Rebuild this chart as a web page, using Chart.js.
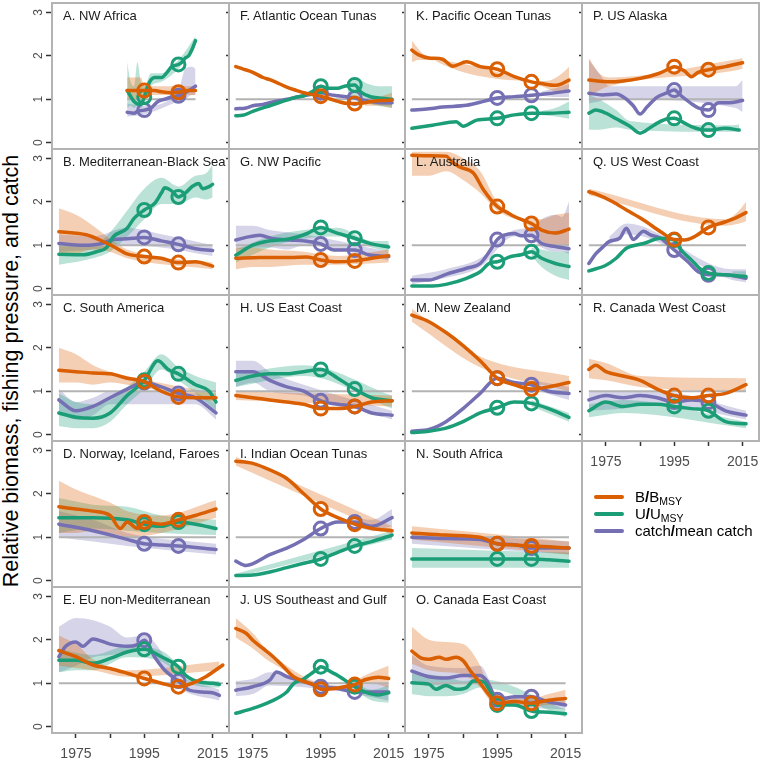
<!DOCTYPE html>
<html><head><meta charset="utf-8">
<script src="https://cdn.jsdelivr.net/npm/chart.js@4.4.1/dist/chart.umd.min.js"></script>
<style>
body{margin:0;width:762px;height:761px;background:#fff;position:relative;overflow:hidden;font-family:"Liberation Sans",Arial,Helvetica,sans-serif}
canvas{position:absolute}
.tbox{position:absolute;overflow:hidden;height:28px;z-index:5}
.tbox span{position:absolute;left:10px;top:4px;font-size:13px;line-height:16px;color:#1a1a1a;white-space:nowrap}
#ytitle{position:absolute;left:-239px;top:358px;width:500px;height:26px;line-height:26px;text-align:center;font-size:21.5px;color:#000;transform:rotate(-90deg);transform-origin:50% 50%;white-space:nowrap}
.leg{position:absolute;left:594px;height:18px;font-size:15px;line-height:18px;color:#000;white-space:nowrap}
.leg .sw{position:absolute;left:0;top:7px;width:30px;height:4px;border-radius:2px}
.leg .tx{position:absolute;left:41px;top:0}
.leg sub{font-size:10.5px;vertical-align:-3px;line-height:0}
.leg b{font-weight:bold}
</style></head><body>
<div id="ytitle">Relative biomass, fishing pressure, and catch</div>
<script>
// ---------------- DATA ----------------
const panelTitles = ['A. NW Africa','B. Mediterranean-Black Sea','C. South America','D. Norway, Iceland, Faroes','E. EU non-Mediterranean',
 'F. Atlantic Ocean Tunas','G. NW Pacific','H. US East Coast','I. Indian Ocean Tunas','J. US Southeast and Gulf',
 'K. Pacific Ocean Tunas','L. Australia','M. New Zealand','N. South Africa','O. Canada East Coast',
 'P. US Alaska','Q. US West Coast','R. Canada West Coast'];
const seriesNames = ['B/BMSY','U/UMSY','catch/mean catch'];
const xTickYears = [1975,1985,1995,2005,2015];
const xTickLabels = ['1975','','1995','','2015'];
const yTickValues = [0,1,2,3];
const circleYears = [1995,2005];

// series: [year, value]; bands: [year, low, high]
// A. NW Africa
const A_b = [[1990,1.2],[1993,1.2],[1995,1.2],[1998,1.2],[2000,1.17],[2003,1.15],[2005,1.16],[2008,1.2],[2010,1.2]];
const A_u = [[1990,1.2],[1992,0.95],[1994,0.88],[1995,1.05],[1996,1.3],[1997,1.45],[1998,1.5],[2000,1.5],[2002,1.65],[2003,1.75],[2005,1.8],[2006,1.85],[2007,1.95],[2008,2.0],[2009,2.15],[2010,2.35]];
const A_c = [[1990,0.7],[1992,0.68],[1993,0.72],[1995,0.75],[1997,0.8],[1999,0.95],[2001,1.0],[2003,1.05],[2005,1.08],[2007,1.15],[2009,1.25],[2010,1.3]];
const A_bBand = [[1990,1.0,1.5],[1994,1.0,1.5],[1995,1.1,1.3],[2010,1.1,1.3]];
const A_uBand = [[1990,0.8,1.85],[1991,0.85,1.4],[1992,0.8,1.3],[1993,0.85,1.85],[1994,0.8,1.4],[1995,0.9,1.3],[1997,1.3,1.6],[2000,1.4,1.6],[2005,1.7,1.9],[2010,2.25,2.45]];
const A_cBand = [[1990,0.6,0.9],[1995,0.65,0.85],[2005,0.95,1.2],[2007,1.0,1.7],[2009,1.1,1.75],[2010,1.1,1.7]];
// B. Mediterranean-Black Sea
const B_b = [[1970,1.31],[1978,1.24],[1982,1.12],[1986,0.97],[1990,0.8],[1995,0.74],[2000,0.7],[2005,0.6],[2010,0.62],[2015,0.52]];
const B_u = [[1970,0.79],[1977,0.78],[1981,0.85],[1984,0.95],[1986,1.2],[1990,1.39],[1992,1.62],[1995,1.81],[1998,1.96],[2000,2.2],[2001,2.32],[2003,2.25],[2005,2.11],[2007,2.2],[2009,2.35],[2011,2.42],[2012,2.3],[2014,2.35],[2015,2.4]];
const B_c = [[1970,1.04],[1977,1.0],[1982,1.03],[1986,1.13],[1990,1.15],[1995,1.18],[2000,1.1],[2005,1.02],[2010,0.92],[2015,0.88]];
const B_bBand = [[1970,0.75,1.85],[1975,0.8,1.7],[1980,0.9,1.45],[1985,0.85,1.15],[1990,0.7,0.9],[2015,0.45,0.6]];
const B_uBand = [[1970,0.55,1.0],[1980,0.7,1.0],[1985,0.85,1.3],[1990,1.2,1.8],[1995,1.6,2.3],[2000,1.95,2.55],[2005,1.95,2.35],[2010,2.1,2.6],[2013,2.05,2.65],[2015,2.1,2.85]];
const B_cBand = [[1970,0.85,1.25],[1980,0.9,1.2],[1990,1.0,1.4],[2000,0.95,1.25],[2015,0.75,1.0]];
// C. South America
const C_b = [[1970,1.48],[1975,1.45],[1980,1.42],[1985,1.4],[1990,1.3],[1995,1.22],[2000,1.0],[2005,0.87],[2010,0.85],[2016,0.85]];
const C_u = [[1970,0.5],[1975,0.4],[1980,0.38],[1985,0.5],[1990,0.9],[1995,1.25],[1999,1.7],[2002,1.5],[2005,1.4],[2010,1.15],[2014,1.0],[2016,0.75]];
const C_c = [[1970,0.8],[1975,0.55],[1980,0.65],[1985,0.85],[1990,1.05],[1995,1.2],[2000,1.1],[2005,0.95],[2010,0.85],[2016,0.5]];
const C_bBand = [[1970,1.2,2.0],[1975,1.2,1.85],[1980,1.15,1.6],[1985,1.2,1.45],[1990,1.15,1.35],[2016,0.75,0.95]];
const C_uBand = [[1970,0.2,0.95],[1975,0.15,0.75],[1980,0.15,0.7],[1985,0.3,0.8],[1990,0.7,1.1],[1995,1.05,1.45],[2000,1.5,1.85],[2005,1.25,1.55],[2010,0.95,1.35],[2016,0.55,1.2]];
const C_cBand = [[1970,0.5,1.05],[1975,0.35,0.75],[1980,0.45,0.85],[1985,0.7,1.0],[2010,0.7,0.95],[2016,0.35,0.7]];
// D. Norway, Iceland, Faroes
const D_b = [[1970,1.7],[1975,1.65],[1980,1.6],[1985,1.5],[1988,1.2],[1990,1.35],[1993,1.2],[1995,1.35],[2000,1.3],[2005,1.4],[2010,1.5],[2016,1.65]];
const D_u = [[1970,1.45],[1980,1.45],[1990,1.4],[1995,1.3],[2000,1.25],[2005,1.35],[2010,1.3],[2016,1.2]];
const D_c = [[1970,1.3],[1980,1.15],[1990,0.95],[1995,0.85],[2000,0.82],[2005,0.8],[2016,0.72]];
const D_bBand = [[1970,1.1,2.3],[1975,1.1,2.1],[1980,1.15,1.95],[1985,1.1,1.8],[1990,1.0,1.6],[2000,1.1,1.5],[2016,1.45,1.85]];
const D_uBand = [[1970,1.1,1.9],[1980,1.2,1.75],[1990,1.15,1.7],[2000,1.1,1.5],[2016,1.05,1.4]];
const D_cBand = [[1970,1.0,1.6],[1980,0.9,1.4],[1990,0.8,1.1],[2016,0.6,0.85]];
// E. EU non-Mediterranean
const E_b = [[1970,1.75],[1975,1.61],[1980,1.42],[1985,1.34],[1990,1.23],[1995,1.11],[2000,1.0],[2005,0.92],[2009,1.0],[2013,1.15],[2018,1.42]];
const E_u = [[1970,1.53],[1975,1.53],[1980,1.46],[1985,1.57],[1990,1.72],[1995,1.78],[2000,1.61],[2005,1.38],[2007,1.19],[2011,1.03],[2015,1.0],[2017,0.97]];
const E_c = [[1970,1.61],[1972,1.85],[1975,1.95],[1977,1.85],[1980,2.02],[1985,1.9],[1990,1.85],[1993,1.89],[1995,1.99],[1998,1.61],[2001,1.3],[2005,1.05],[2008,0.85],[2012,0.8],[2015,0.78],[2017,0.72]];
const E_bBand = [[1970,1.4,2.1],[1975,1.35,1.9],[1980,1.3,1.55],[1990,1.15,1.3],[2017,1.3,1.5]];
const E_uBand = [[1970,1.25,1.8],[1975,1.3,1.7],[1980,1.3,1.65],[1990,1.6,1.85],[2000,1.5,1.75],[2010,0.95,1.1],[2017,0.9,1.05]];
const E_cBand = [[1970,1.25,2.3],[1975,1.4,2.5],[1980,1.6,2.45],[1985,1.65,2.3],[1990,1.7,2.05],[1995,1.85,2.1],[2005,0.9,1.2],[2017,0.6,0.85]];
// F. Atlantic Ocean Tunas
const F_b = [[1970,1.75],[1972,1.7],[1975,1.62],[1978,1.5],[1980,1.45],[1983,1.35],[1985,1.28],[1988,1.2],[1990,1.15],[1993,1.1],[1995,1.07],[1998,1.0],[2000,0.95],[2003,0.9],[2005,0.9],[2008,0.92],[2010,0.95],[2013,0.97],[2016,0.98]];
const F_u = [[1970,0.62],[1972,0.63],[1975,0.72],[1978,0.8],[1980,0.85],[1983,0.93],[1985,0.98],[1988,1.05],[1990,1.08],[1993,1.2],[1995,1.3],[1997,1.25],[2000,1.25],[2002,1.3],[2005,1.33],[2007,1.15],[2010,1.05],[2013,1.02],[2016,1.0]];
const F_c = [[1970,0.78],[1973,0.8],[1975,0.85],[1978,0.88],[1980,0.92],[1983,0.97],[1985,1.0],[1988,1.05],[1990,1.08],[1993,1.12],[1995,1.15],[1998,1.1],[2000,1.08],[2003,1.05],[2005,1.03],[2008,0.97],[2010,0.95],[2013,0.92],[2016,0.92]];
const F_bBand = [[2008,0.85,1.0],[2012,0.85,1.05],[2016,0.8,1.15]];
const F_uBand = [[2003,1.15,1.4],[2006,0.95,1.45],[2009,0.9,1.35],[2012,0.85,1.3],[2016,0.8,1.3]];
const F_cBand = [[2010,0.88,1.02],[2016,0.85,1.0]];
// G. NW Pacific
const G_b = [[1970,0.7],[1977,0.72],[1986,0.72],[1991,0.73],[1995,0.66],[1999,0.62],[2005,0.64],[2010,0.7],[2015,0.76]];
const G_u = [[1970,0.77],[1975,1.0],[1980,1.1],[1986,1.15],[1991,1.27],[1995,1.41],[1999,1.3],[2005,1.16],[2010,1.03],[2015,0.96]];
const G_c = [[1970,1.12],[1973,1.18],[1977,1.23],[1981,1.15],[1986,1.12],[1990,1.1],[1995,1.03],[1999,0.89],[2005,0.89],[2009,0.78],[2015,0.74]];
const G_bBand = [[1970,0.45,0.95],[1975,0.5,0.95],[1980,0.5,0.9],[1990,0.55,0.85],[2000,0.55,0.75],[2015,0.6,0.9]];
const G_uBand = [[1970,0.6,0.9],[1980,0.95,1.2],[1990,1.15,1.35],[2000,1.2,1.4],[2010,0.95,1.1],[2015,0.85,1.1]];
const G_cBand = [[1970,0.9,1.45],[1975,0.95,1.45],[1980,0.95,1.35],[1985,0.9,1.3],[1990,1.0,1.25],[2015,0.65,0.85]];
// H. US East Coast
const H_b = [[1970,0.9],[1975,0.85],[1980,0.8],[1985,0.75],[1990,0.7],[1995,0.6],[2000,0.6],[2005,0.65],[2010,0.75],[2016,0.78]];
const H_u = [[1970,1.25],[1975,1.35],[1980,1.4],[1985,1.4],[1990,1.45],[1995,1.5],[2000,1.3],[2005,1.05],[2010,0.85],[2016,0.78]];
const H_c = [[1970,1.45],[1975,1.45],[1980,1.25],[1985,1.1],[1990,1.0],[1995,0.78],[2000,0.7],[2005,0.65],[2010,0.5],[2016,0.45]];
const H_bBand = [[1970,0.8,1.0],[2016,0.65,0.9]];
const H_uBand = [[1970,1.1,1.4],[1990,1.35,1.6],[2016,0.6,0.9]];
const H_cBand = [[1970,1.1,1.7],[1975,1.2,1.7],[1980,1.0,1.45],[1990,0.9,1.15],[2016,0.35,0.55]];
// I. Indian Ocean Tunas
const I_b = [[1970,2.75],[1975,2.7],[1980,2.55],[1985,2.35],[1990,2.0],[1995,1.65],[2000,1.45],[2005,1.3],[2010,1.2],[2016,1.15]];
const I_u = [[1970,0.12],[1975,0.13],[1980,0.2],[1985,0.3],[1990,0.4],[1995,0.5],[2000,0.65],[2005,0.8],[2010,0.9],[2016,1.05]];
const I_c = [[1970,0.45],[1973,0.35],[1980,0.6],[1985,0.75],[1990,0.95],[1995,1.2],[2000,1.35],[2005,1.35],[2010,1.25],[2016,1.45]];
const I_bBand = [[1970,2.65,2.85],[2016,1.05,1.25]];
const I_uBand = [[1970,0.08,0.16],[2016,0.95,1.15]];
const I_cBand = [[2005,1.25,1.45],[2010,1.15,1.4],[2016,1.25,1.65]];
// J. US Southeast and Gulf
const J_b = [[1970,2.26],[1973,2.15],[1975,1.99],[1978,1.8],[1981,1.61],[1984,1.38],[1987,1.15],[1990,1.04],[1993,0.96],[1995,0.86],[1999,0.88],[2002,0.92],[2005,0.97],[2008,1.08],[2012,1.14],[2015,1.11]];
const J_u = [[1970,0.31],[1975,0.42],[1980,0.57],[1985,0.8],[1987,0.99],[1990,1.1],[1992,1.21],[1994,1.32],[1995,1.38],[1998,1.26],[2000,1.18],[2005,0.92],[2008,0.8],[2012,0.73],[2015,0.78]];
const J_c = [[1970,0.84],[1975,0.92],[1980,1.07],[1982,1.26],[1985,1.15],[1990,1.04],[1995,0.92],[2000,0.88],[2005,0.8],[2010,0.8],[2015,0.8]];
const J_bBand = [[1970,2.05,2.5],[1975,1.8,2.15],[1980,1.5,1.7],[2000,0.83,0.93],[2010,1.0,1.25],[2015,0.9,1.4]];
const J_uBand = [[2005,0.85,1.0],[2010,0.6,0.85],[2015,0.55,0.95]];
const J_cBand = [[1970,0.7,1.05],[1975,0.75,1.1],[1980,0.95,1.25],[2000,0.82,0.95],[2015,0.6,1.0]];
// K. Pacific Ocean Tunas
const K_b = [[1970,2.13],[1972,2.02],[1975,1.95],[1979,1.92],[1982,1.76],[1986,1.86],[1990,1.75],[1995,1.69],[2000,1.52],[2005,1.4],[2008,1.36],[2012,1.32],[2014,1.36],[2016,1.44]];
const K_u = [[1970,0.33],[1976,0.4],[1983,0.48],[1985,0.38],[1989,0.52],[1995,0.56],[2000,0.64],[2005,0.68],[2010,0.68],[2016,0.7]];
const K_c = [[1970,0.75],[1975,0.78],[1979,0.82],[1986,0.86],[1991,0.95],[1995,1.03],[2000,1.06],[2005,1.09],[2010,1.13],[2016,1.19]];
const K_bBand = [[1970,1.85,2.35],[1972,1.9,2.15],[1974,1.9,2.0],[2008,1.3,1.42],[2011,1.2,1.45],[2014,1.15,1.6],[2016,1.25,1.75]];
const K_uBand = [[2008,0.63,0.73],[2012,0.6,0.8],[2016,0.55,0.95]];
const K_cBand = [[2008,1.08,1.18],[2012,1.05,1.25],[2016,1.05,1.35]];
// L. Australia
const L_b = [[1970,3.07],[1975,3.06],[1980,3.05],[1982,2.9],[1984,2.8],[1988,2.66],[1991,2.27],[1995,1.89],[1998,1.75],[2000,1.66],[2005,1.5],[2008,1.35],[2012,1.28],[2016,1.37]];
const L_u = [[1970,0.06],[1976,0.06],[1980,0.1],[1986,0.24],[1990,0.39],[1993,0.6],[1995,0.62],[1999,0.74],[2002,0.78],[2005,0.85],[2008,0.7],[2012,0.58],[2016,0.51]];
const L_c = [[1970,0.2],[1975,0.2],[1980,0.33],[1986,0.47],[1990,0.58],[1993,0.89],[1995,1.13],[1997,1.23],[2000,1.27],[2002,1.22],[2005,1.23],[2008,1.04],[2012,0.97],[2016,0.92]];
const L_bBand = [[1970,2.6,3.15],[1975,2.6,3.15],[1980,2.7,3.15],[1985,2.5,3.0],[1990,2.2,2.7],[1995,1.8,2.0],[2005,1.4,1.6],[2008,1.1,1.6],[2012,1.0,1.7],[2016,1.0,1.75]];
const L_uBand = [[2005,0.75,0.95],[2008,0.5,0.9],[2012,0.3,0.85],[2016,0.2,0.85]];
const L_cBand = [[1970,0.1,0.3],[1980,0.25,0.45],[1990,0.5,0.7],[2000,1.2,1.35],[2005,1.15,1.4],[2008,0.95,1.6],[2012,0.85,1.7],[2014,0.85,1.65],[2016,0.8,2.0]];
// M. New Zealand
const M_b = [[1970,2.75],[1975,2.6],[1980,2.35],[1985,2.05],[1990,1.7],[1995,1.3],[2000,1.15],[2005,1.05],[2010,1.1],[2016,1.2]];
const M_u = [[1970,0.05],[1975,0.08],[1980,0.15],[1985,0.3],[1990,0.5],[1995,0.62],[2000,0.75],[2005,0.72],[2010,0.6],[2016,0.4]];
const M_c = [[1970,0.08],[1975,0.12],[1980,0.3],[1985,0.6],[1990,0.95],[1995,1.3],[2000,1.2],[2005,1.15],[2010,1.0],[2016,0.95]];
const M_bBand = [[1970,2.6,2.9],[1990,1.55,1.8],[2016,1.0,1.35]];
const M_uBand = [[2005,0.65,0.8],[2016,0.3,0.5]];
const M_cBand = [[2005,1.05,1.25],[2016,0.8,1.1]];
// N. South Africa
const N_b = [[1970,1.1],[1980,1.05],[1990,1.0],[1995,0.85],[2000,0.82],[2005,0.8],[2010,0.78],[2016,0.75]];
const N_u = [[1970,0.5],[1980,0.5],[1990,0.5],[1995,0.5],[2005,0.5],[2010,0.48],[2016,0.45]];
const N_c = [[1970,1.0],[1980,0.97],[1990,0.95],[1995,0.85],[2000,0.83],[2005,0.75],[2010,0.75],[2016,0.75]];
const N_bBand = [[1970,0.95,1.25],[2016,0.6,0.9]];
const N_uBand = [[1970,0.3,0.75],[1990,0.3,0.7],[2016,0.3,0.65]];
const N_cBand = [[1970,0.85,1.1],[2016,0.6,0.9]];
// O. Canada East Coast
const O_b = [[1970,1.74],[1973,1.57],[1975,1.55],[1978,1.6],[1980,1.55],[1983,1.6],[1985,1.52],[1987,1.3],[1990,1.0],[1993,0.69],[1995,0.54],[2000,0.58],[2005,0.54],[2010,0.61],[2015,0.65]];
const O_u = [[1970,1.01],[1975,0.98],[1977,0.86],[1980,0.95],[1983,0.86],[1986,0.9],[1988,1.05],[1991,1.03],[1993,0.8],[1995,0.5],[2000,0.5],[2005,0.36],[2010,0.33],[2015,0.3]];
const O_c = [[1970,1.28],[1975,1.15],[1980,1.12],[1985,1.18],[1990,1.18],[1992,1.05],[1995,0.62],[2000,0.69],[2005,0.69],[2010,0.57],[2015,0.5]];
const O_bBand = [[1970,1.45,2.3],[1975,1.3,2.0],[1980,1.25,1.95],[1985,1.2,1.9],[1990,0.9,1.4],[1993,0.6,0.8],[2005,0.45,0.65],[2010,0.5,0.75],[2015,0.5,0.85]];
const O_uBand = [[1970,0.75,1.25],[1975,0.7,1.2],[1980,0.7,1.15],[1985,0.75,1.05],[1990,0.9,1.1],[2015,0.22,0.4]];
const O_cBand = [[1970,1.0,1.65],[1975,0.95,1.4],[1985,1.0,1.35],[1990,1.05,1.4],[1995,0.55,0.75],[2015,0.4,0.6]];
// P. US Alaska
const P_b = [[1970,1.44],[1976,1.4],[1980,1.42],[1985,1.48],[1990,1.58],[1993,1.68],[1995,1.75],[1998,1.65],[2000,1.52],[2002,1.62],[2005,1.68],[2010,1.75],[2015,1.84]];
const P_u = [[1970,0.68],[1972,0.75],[1975,0.68],[1978,0.55],[1982,0.38],[1985,0.22],[1988,0.35],[1990,0.45],[1993,0.55],[1995,0.56],[1998,0.45],[2000,0.37],[2003,0.3],[2005,0.29],[2010,0.33],[2014,0.29]];
const P_c = [[1970,1.14],[1974,1.1],[1978,1.12],[1981,1.0],[1983,0.85],[1985,0.66],[1987,0.82],[1990,1.05],[1993,1.15],[1995,1.21],[1997,1.08],[2000,0.9],[2002,0.8],[2005,0.75],[2008,0.92],[2011,0.92],[2015,0.97]];
const P_bBand = [[1970,1.05,1.95],[1973,1.2,1.6],[1976,1.3,1.5],[2012,1.65,1.9],[2015,1.7,1.95]];
const P_uBand = [[1970,0.3,1.1],[1973,0.3,1.0],[1978,0.35,0.75],[1982,0.3,0.5],[2012,0.25,0.4],[2014,0.25,0.42]];
const P_cBand = [[1970,0.9,1.9],[1973,0.95,1.6],[1976,1.0,1.3],[2013,0.8,1.3],[2015,0.7,1.45]];
// Q. US West Coast
const Q_b = [[1970,2.23],[1972,2.18],[1977,2.0],[1981,1.81],[1986,1.58],[1991,1.31],[1995,1.13],[1998,1.12],[2001,1.2],[2005,1.41],[2010,1.54],[2013,1.63],[2016,1.75]];
const Q_u = [[1970,0.41],[1975,0.54],[1978,0.7],[1981,0.93],[1986,1.04],[1991,1.16],[1995,1.12],[1997,0.89],[2000,0.66],[2003,0.43],[2005,0.36],[2010,0.32],[2016,0.28]];
const Q_c = [[1970,0.58],[1972,0.8],[1974,0.95],[1976,1.09],[1979,1.16],[1981,1.39],[1983,1.13],[1986,1.32],[1988,1.24],[1991,1.16],[1995,0.89],[1999,0.62],[2002,0.39],[2005,0.32],[2010,0.32],[2016,0.24]];
const Q_bBand = [[1970,2.15,2.3],[2010,1.45,1.6],[2014,1.5,1.8],[2016,1.55,2.0]];
const Q_uBand = [[2012,0.25,0.4],[2016,0.2,0.4]];
const Q_cBand = [[1976,1.0,1.2],[1981,1.25,1.5],[2012,0.2,0.45],[2016,0.15,0.45]];
// R. Canada West Coast
const R_b = [[1970,1.5],[1972,1.6],[1975,1.45],[1980,1.35],[1985,1.25],[1990,1.05],[1995,0.9],[2000,0.85],[2005,0.9],[2010,0.95],[2016,1.15]];
const R_u = [[1970,0.55],[1975,0.75],[1980,0.65],[1985,0.7],[1990,0.7],[1995,0.65],[2000,0.6],[2005,0.55],[2010,0.3],[2016,0.25]];
const R_c = [[1970,0.8],[1975,0.9],[1980,0.85],[1985,0.9],[1990,0.85],[1995,0.75],[2000,0.8],[2005,0.75],[2010,0.55],[2016,0.45]];
const R_bBand = [[1970,1.3,1.75],[1975,1.25,1.65],[1985,1.1,1.35],[2016,1.0,1.3]];
const R_uBand = [[1970,0.4,0.7],[1980,0.5,0.8],[2016,0.15,0.3]];
const R_cBand = [[1970,0.55,1.0],[1980,0.6,1.0],[1990,0.7,1.0],[2016,0.35,0.55]];

// panel table built from the arrays (index -> column = floor(i/5), row = i%5)
const panelSeries = [
 [A_b,A_u,A_c,A_bBand,A_uBand,A_cBand],[B_b,B_u,B_c,B_bBand,B_uBand,B_cBand],[C_b,C_u,C_c,C_bBand,C_uBand,C_cBand],
 [D_b,D_u,D_c,D_bBand,D_uBand,D_cBand],[E_b,E_u,E_c,E_bBand,E_uBand,E_cBand],[F_b,F_u,F_c,F_bBand,F_uBand,F_cBand],
 [G_b,G_u,G_c,G_bBand,G_uBand,G_cBand],[H_b,H_u,H_c,H_bBand,H_uBand,H_cBand],[I_b,I_u,I_c,I_bBand,I_uBand,I_cBand],
 [J_b,J_u,J_c,J_bBand,J_uBand,J_cBand],[K_b,K_u,K_c,K_bBand,K_uBand,K_cBand],[L_b,L_u,L_c,L_bBand,L_uBand,L_cBand],
 [M_b,M_u,M_c,M_bBand,M_uBand,M_cBand],[N_b,N_u,N_c,N_bBand,N_uBand,N_cBand],[O_b,O_u,O_c,O_bBand,O_uBand,O_cBand],
 [P_b,P_u,P_c,P_bBand,P_uBand,P_cBand],[Q_b,Q_u,Q_c,Q_bBand,Q_uBand,Q_cBand],[R_b,R_u,R_c,R_bBand,R_uBand,R_cBand]
];

// ---------------- STYLE / LAYOUT ----------------
const FONT = '"Liberation Sans", Arial, Helvetica, sans-serif';
const LINE_COL = ['#D95F02','#1B9E77','#7570B3'];
const BAND_COL = ['rgba(217,95,2,0.3)','rgba(27,158,119,0.3)','rgba(117,112,179,0.3)'];
const colLeft = [52,229,405,582];
const colWidth = [177,176,177,177];
const rowTop0 = 3, rowH = 146;

const framePlugin = {id:'frame', afterDraw(chart){
  const {ctx, chartArea:a} = chart;
  ctx.save(); ctx.strokeStyle = '#b3b3b3'; ctx.lineWidth = 2;
  ctx.strokeRect(a.left, a.top, a.right - a.left, a.bottom - a.top);
  ctx.restore();
}};

const toXY = arr => arr.map(p => ({x:p[0], y:p[1]}));

panelSeries.forEach((ps, i) => {
  const col = Math.floor(i/5), row = i%5;
  const bottom = (row === 4) || i === 17;
  const ML = col === 0 ? 52 : 8;
  const MB = bottom ? 30 : 3;
  const W = colWidth[col];
  const top = rowTop0 + row*rowH;
  const cv = document.createElement('canvas');
  cv.width = ML + W + 3; cv.height = 3 + rowH + MB;
  cv.style.left = (colLeft[col] - ML) + 'px';
  cv.style.top = (top - 3) + 'px';
  cv.style.width = cv.width + 'px'; cv.style.height = cv.height + 'px';
  document.body.appendChild(cv);

  const datasets = [];
  [0,1,2].forEach(k => {
    const band = ps[3+k];
    if (!band || !band.length) return;
    datasets.push({data: band.map(p => ({x:p[0], y:p[2]})), borderWidth:0, pointRadius:0, fill:false, order:20, cubicInterpolationMode:'monotone'});
    datasets.push({data: band.map(p => ({x:p[0], y:p[1]})), borderWidth:0, pointRadius:0, fill:'-1', backgroundColor:BAND_COL[k], order:20, cubicInterpolationMode:'monotone'});
  });
  let x0 = Infinity, x1 = -Infinity;
  [0,1,2].forEach(k => { ps[k].forEach(p => { x0 = Math.min(x0, p[0]); x1 = Math.max(x1, p[0]); }); });
  datasets.push({data:[{x:x0,y:1},{x:x1,y:1}], borderColor:'#b3b3b3', borderWidth:2, pointRadius:0, fill:false, order:10});
  const lineOrder = [1,2,3];
  [2,1,0].forEach(k => {
    datasets.push({
      data: toXY(ps[k]), borderColor: LINE_COL[k], borderWidth:3.5, fill:false,
      cubicInterpolationMode:'monotone', borderCapStyle:'round', borderJoinStyle:'round',
      pointRadius: ctx => (ctx.raw && circleYears.includes(ctx.raw.x)) ? 6.5 : 0,
      pointBorderWidth:3, pointBorderColor: LINE_COL[k], pointBackgroundColor:'rgba(0,0,0,0)',
      order: lineOrder[k]
    });
  });

  new Chart(cv, {
    type:'line',
    data:{datasets},
    options:{
      responsive:false, animation:false, events:[],
      devicePixelRatio:1,
      layout:{padding:{left:0, right:3, top:3, bottom: bottom ? 0 : 3}},
      plugins:{legend:{display:false}, tooltip:{enabled:false}},
      scales:{
        x:{type:'linear', min:1968, max:2019.8, display: bottom,
          afterBuildTicks: s => { s.ticks = xTickYears.map(v => ({value:v})); },
          afterFit: s => { s.height = bottom ? 30 : 0; s.paddingLeft = 0; s.paddingRight = 0; },
          grid:{drawOnChartArea:false, drawTicks:true, tickLength:5, tickColor:'#333', tickWidth:1.5},
          border:{display:false},
          ticks:{autoSkip:false, maxRotation:0, minRotation:0, padding:8, color:'#4d4d4d', font:{size:14, family:FONT},
            callback: v => { const j = xTickYears.indexOf(v); return j >= 0 ? xTickLabels[j] : ''; }}
        },
        y:{type:'linear', min:-0.145, max:3.214,
          afterBuildTicks: s => { s.ticks = yTickValues.map(v => ({value:v})); },
          afterFit: s => { s.width = ML; s.paddingTop = 0; s.paddingBottom = 0; },
          grid:{drawOnChartArea:false, drawTicks:true, tickLength: col === 0 ? 6 : 3, tickColor:'#333', tickWidth:1.5},
          border:{display:false},
          ticks:{display: col === 0, minRotation:90, maxRotation:90, crossAlign:'center', padding:4, color:'#4d4d4d', font:{size:12, family:FONT}}
        }
      }
    },
    plugins:[framePlugin]
  });

  const tb = document.createElement('div');
  tb.className = 'tbox';
  tb.style.left = (colLeft[col] + 1) + 'px';
  tb.style.top = (top + 1) + 'px';
  tb.style.width = (W - 2) + 'px';
  const sp = document.createElement('span');
  sp.textContent = panelTitles[i];
  tb.appendChild(sp);
  document.body.appendChild(tb);
});

// legend
const legTops = [488, 505, 522];
const legHtml = ['B<b>/</b>B<sub>MSY</sub>', 'U<b>/</b>U<sub>MSY</sub>', 'catch<b>/</b>mean catch'];
legHtml.forEach((h, k) => {
  const d = document.createElement('div');
  d.className = 'leg';
  d.style.top = legTops[k] + 'px';
  d.innerHTML = '<span class="sw" style="background:' + LINE_COL[k] + '"></span><span class="tx">' + h + '</span>';
  document.body.appendChild(d);
});
</script>
</body></html>
